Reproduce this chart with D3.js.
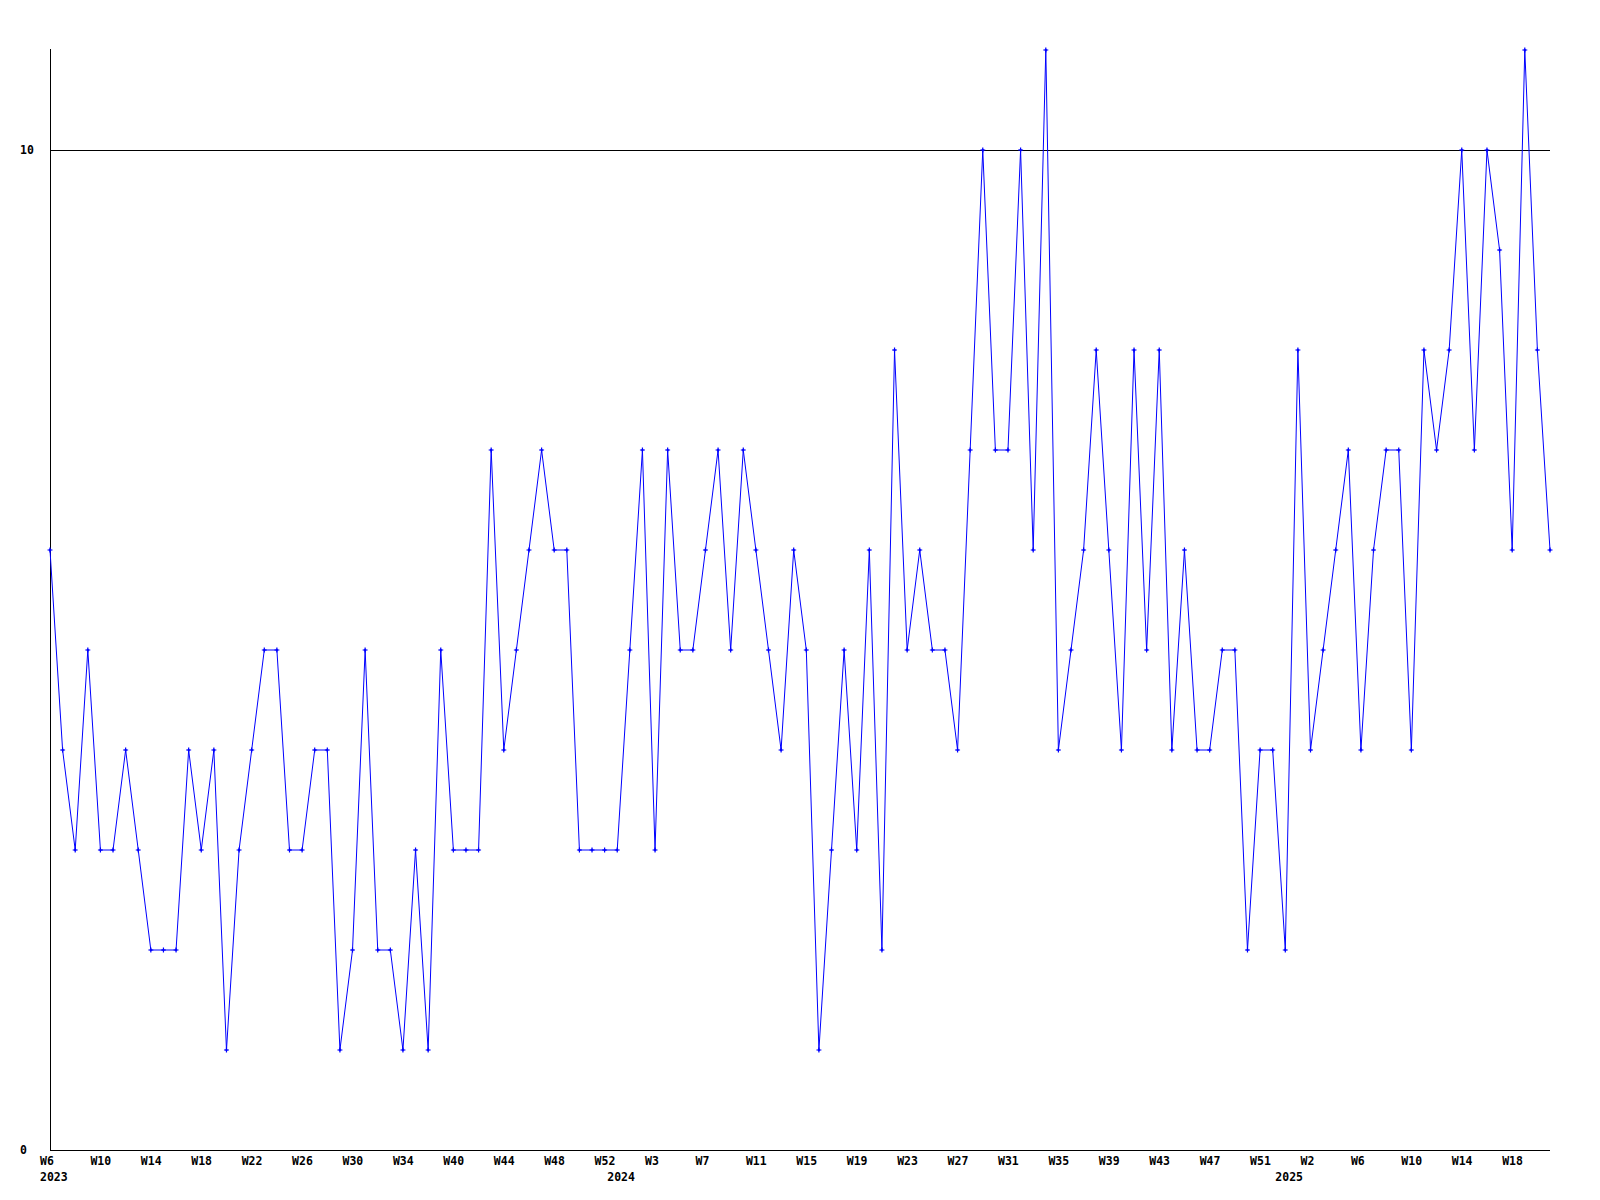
<!DOCTYPE html>
<html>
<head>
<meta charset="utf-8">
<script src="https://cdn.jsdelivr.net/npm/d3@7"></script>
<style>
  html, body { margin: 0; padding: 0; background: #ffffff; }
  svg { display: block; }
  text { font-family: "DejaVu Sans Mono", "Liberation Mono", monospace; font-weight: bold; font-size: 11.5px; fill: #000; }
</style>
</head>
<body>
<svg id="chart" width="1600" height="1200"></svg>
<script>
// Weekly values, 2023 W6 .. 2025 (120 points)
const values = [
  6, 4, 3, 5, 3, 3, 4, 3, 2, 2, 2, 4, 3, 4, 1, 3, 4, 5, 5, 3,
  3, 4, 4, 1, 2, 5, 2, 2, 1, 3, 1, 5, 3, 3, 3, 7, 4, 5, 6, 7,
  6, 6, 3, 3, 3, 3, 5, 7, 3, 7, 5, 5, 6, 7, 5, 7, 6, 5, 4, 6,
  5, 1, 3, 5, 3, 6, 2, 8, 5, 6, 5, 5, 4, 7, 10, 7, 7, 10, 6, 11,
  4, 5, 6, 8, 6, 4, 8, 5, 8, 4, 6, 4, 4, 5, 5, 2, 4, 4, 2, 8,
  4, 5, 6, 7, 4, 6, 7, 7, 4, 8, 7, 8, 10, 7, 10, 9, 6, 11, 8, 6
];
// Week tick labels, one every 4 points starting at the first
const tickLabels = [
  "W6", "W10", "W14", "W18", "W22", "W26", "W30", "W34", "W40", "W44",
  "W48", "W52", "W3", "W7", "W11", "W15", "W19", "W23", "W27", "W31",
  "W35", "W39", "W43", "W47", "W51", "W2", "W6", "W10", "W14", "W18"
];
const tickStep = 4;
// Year labels and the point index they sit under
const yearLabels = ["2023", "2024", "2025"];
const yearIndex = [0, 45, 98];
// Y axis labelled values
const yTicks = [0, 10];
const yGrid = [10];

const svg = d3.select("#chart");
const padL = 50, padR = 1550, padT = 50, padB = 1150;

const x = d3.scaleLinear().domain([0, values.length - 1]).range([padL, padR]);
const y = d3.scaleLinear().domain([0, 11]).range([padB, padT]);

// gridline(s)
svg.selectAll("line.grid").data(yGrid).enter().append("line")
  .attr("class", "grid")
  .attr("x1", padL).attr("x2", padR)
  .attr("y1", d => Math.round(y(d)) + 0.5).attr("y2", d => Math.round(y(d)) + 0.5)
  .attr("stroke", "#000").attr("stroke-width", 1).attr("shape-rendering", "crispEdges");

// axes lines
svg.append("line").attr("x1", padL + 0.5).attr("x2", padL + 0.5).attr("y1", padT - 1).attr("y2", padB + 0.5)
  .attr("stroke", "#000").attr("shape-rendering", "crispEdges");
svg.append("line").attr("x1", padL).attr("x2", padR).attr("y1", padB + 0.5).attr("y2", padB + 0.5)
  .attr("stroke", "#000").attr("shape-rendering", "crispEdges");

// y labels
svg.selectAll("text.ylab").data(yTicks).enter().append("text")
  .attr("class", "ylab")
  .attr("x", 20)
  .attr("y", d => y(d) + 4)
  .text(d => d);

// x labels
svg.selectAll("text.xlab").data(tickLabels).enter().append("text")
  .attr("class", "xlab")
  .attr("x", (d, i) => x(i * tickStep) - 10)
  .attr("y", padB + 15)
  .text(d => d);

svg.selectAll("text.year").data(yearLabels).enter().append("text")
  .attr("class", "year")
  .attr("x", (d, i) => x(yearIndex[i]) - 10)
  .attr("y", padB + 31)
  .text(d => d);

// line
const line = d3.line().x((d, i) => x(i)).y(d => y(d));
svg.append("path").datum(values)
  .attr("d", line)
  .attr("fill", "none")
  .attr("stroke", "#0000ff")
  .attr("stroke-width", 1);

// markers (small plus/diamond)
const mk = svg.append("g").attr("stroke", "#0000ff").attr("fill", "#0000ff");
values.forEach((v, i) => {
  const cx = x(i), cy = y(v);
  mk.append("path")
    .attr("d", `M${cx - 2.5},${cy}L${cx + 2.5},${cy}M${cx},${cy - 2.5}L${cx},${cy + 2.5}`)
    .attr("stroke-width", 1.2);
  mk.append("path")
    .attr("d", `M${cx - 1.5},${cy}L${cx},${cy - 1.5}L${cx + 1.5},${cy}L${cx},${cy + 1.5}Z`)
    .attr("stroke", "none");
});
</script>
</body>
</html>
